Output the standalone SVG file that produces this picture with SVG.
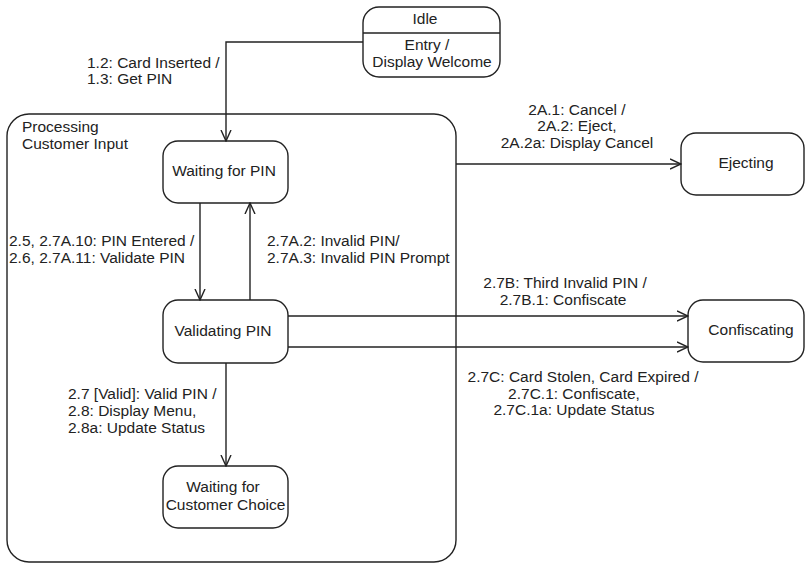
<svg xmlns="http://www.w3.org/2000/svg" width="805" height="564" viewBox="0 0 805 564">
<style>
.s{fill:#fff;stroke:#222;stroke-width:1.4}
.c{fill:none;stroke:#222;stroke-width:1.4}
text{font-family:"Liberation Sans",Arial,sans-serif;font-size:15.5px;fill:#222}
.m{text-anchor:middle}
</style>
<defs>
<marker id="a" viewBox="0 0 12 12" refX="11" refY="6" markerWidth="12" markerHeight="12" markerUnits="userSpaceOnUse" orient="auto">
<path d="M0,1 L11,6 L0,11" fill="none" stroke="#222" stroke-width="1.4"/>
</marker>
</defs>
<rect width="805" height="564" fill="#fff"/>
<g id="processing">
<rect class="s" x="7" y="114" width="449" height="448" rx="22"/>
<text x="22" y="132">Processing</text>
<text x="22" y="149">Customer Input</text>
</g>
<g id="idle">
<rect class="s" x="363" y="7" width="137" height="70" rx="16"/>
<line class="c" x1="363" y1="33" x2="500" y2="33"/>
<text class="m" x="425" y="24">Idle</text>
<text class="m" x="427" y="50">Entry /</text>
<text class="m" x="432" y="67">Display Welcome</text>
</g>
<g id="waitingPin">
<rect class="s" x="163" y="141" width="125" height="62" rx="15"/>
<text class="m" x="224" y="176">Waiting for PIN</text>
</g>
<g id="validating">
<rect class="s" x="163" y="300" width="125" height="63" rx="15"/>
<text class="m" x="223" y="336">Validating PIN</text>
</g>
<g id="waitingChoice">
<rect class="s" x="163" y="466" width="125" height="62" rx="15"/>
<text class="m" x="223" y="492">Waiting for</text>
<text class="m" x="225.5" y="510">Customer Choice</text>
</g>
<g id="ejecting">
<rect class="s" x="681" y="133" width="123" height="62" rx="15"/>
<text class="m" x="746" y="168">Ejecting</text>
</g>
<g id="confiscating">
<rect class="s" x="688" y="300" width="116" height="62" rx="15"/>
<text class="m" x="751" y="335">Confiscating</text>
</g>
<g id="connectors">
<polyline class="c" points="363,42 226,42 226,141" marker-end="url(#a)"/>
<line class="c" x1="200" y1="203" x2="200" y2="300" marker-end="url(#a)"/>
<line class="c" x1="250" y1="300" x2="250" y2="203" marker-end="url(#a)"/>
<line class="c" x1="226" y1="363" x2="226" y2="466" marker-end="url(#a)"/>
<line class="c" x1="456" y1="164" x2="681" y2="164" marker-end="url(#a)"/>
<line class="c" x1="288" y1="316" x2="688" y2="316" marker-end="url(#a)"/>
<line class="c" x1="288" y1="347" x2="688" y2="347" marker-end="url(#a)"/>
<text x="87" y="68">1.2: Card Inserted /</text>
<text x="87" y="84">1.3: Get PIN</text>
<text x="9" y="246">2.5, 2.7A.10: PIN Entered /</text>
<text x="9" y="263">2.6, 2.7A.11: Validate PIN</text>
<text x="267" y="246">2.7A.2: Invalid PIN/</text>
<text x="267" y="263">2.7A.3: Invalid PIN Prompt</text>
<text x="68" y="399">2.7 [Valid]: Valid PIN /</text>
<text x="68" y="416">2.8: Display Menu,</text>
<text x="68" y="433">2.8a: Update Status</text>
<text class="m" x="577" y="114.5">2A.1: Cancel /</text>
<text class="m" x="577" y="131">2A.2: Eject,</text>
<text class="m" x="577" y="147.5">2A.2a: Display Cancel</text>
<text class="m" x="565" y="288">2.7B: Third Invalid PIN /</text>
<text class="m" x="563" y="304.5">2.7B.1: Confiscate</text>
<text class="m" x="583" y="382">2.7C: Card Stolen, Card Expired /</text>
<text class="m" x="574" y="399">2.7C.1: Confiscate,</text>
<text class="m" x="574" y="415">2.7C.1a: Update Status</text>
</g>
</svg>
